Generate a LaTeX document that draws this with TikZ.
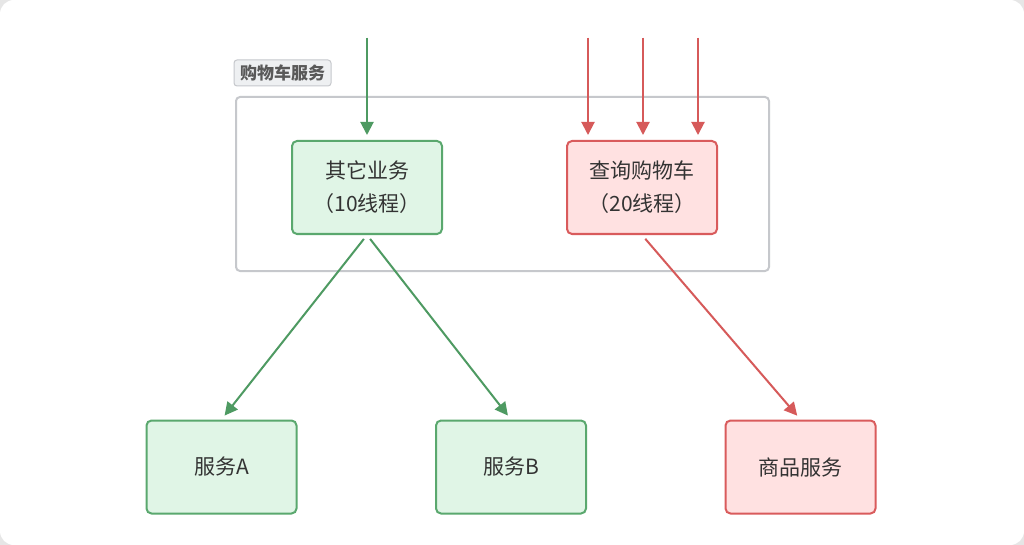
\documentclass[tikz,border=0pt]{standalone}
\usepackage{fontspec}
\setmainfont{Noto Sans CJK SC}
\usepackage{xcolor}
\usetikzlibrary{arrows.meta,positioning,calc}
\definecolor{okgreen}{HTML}{5AA86E}
\definecolor{okgreenfill}{HTML}{E0F5E6}
\definecolor{okarrow}{HTML}{4E9A62}
\definecolor{hotred}{HTML}{D95B5C}
\definecolor{hotredfill}{HTML}{FFE1E1}
\definecolor{hotarrow}{HTML}{D65A5A}
\definecolor{groupgray}{HTML}{C6C8CC}
\definecolor{groupfill}{HTML}{EEF0F2}
\definecolor{textdark}{HTML}{333333}
\definecolor{cornergray}{HTML}{E6E6E6}

\tikzset{
    svcbox/.style={draw, line width=2pt, rounded corners=5pt,
        minimum width=150pt, minimum height=93pt, align=center,
        text=textdark, font=\fontsize{21}{33}\selectfont},
    okbox/.style={svcbox, draw=okgreen, fill=okgreenfill},
    hotbox/.style={svcbox, draw=hotred, fill=hotredfill},
    call/.style={line width=2pt, -{Triangle[length=13pt,width=13pt]},
        shorten >=5pt},
}

\begin{document}
\begin{tikzpicture}[x=1pt, y=-1pt]
    \useasboundingbox (0,0) rectangle (1024,545);
    % page
    \fill[cornergray] (0,0) rectangle (1024,545);
    \fill[white, rounded corners=14pt] (0,0) rectangle (1024,545);

    % Cart service group
    \draw[draw=groupgray, line width=2pt, rounded corners=4pt] (236,97) rectangle (769,271);
    \node[draw=groupgray, fill=groupfill, line width=1pt, rounded corners=3pt,
        minimum width=97pt, minimum height=26pt, inner sep=0pt,
        text=black!65, font=\fontsize{17}{17}\selectfont\bfseries] (grouplabel) at (282.5,73) {购物车服务};

    % Nodes inside the group
    \node[okbox] (other) at (367,187.5) {其它业务\\（10线程）};
    \node[hotbox] (cart) at (642,187.5) {查询购物车\\（20线程）};

    % Downstream services
    \node[okbox] (svcA) at (221.5,467) {服务A};
    \node[okbox] (svcB) at (511,467) {服务B};
    \node[hotbox] (goods) at (800.5,467) {商品服务};

    % Incoming requests
    \coordinate (inother) at (367,38);
    \coordinate (incartA) at (588,38);
    \coordinate (incartB) at (643,38);
    \coordinate (incartC) at (698,38);
    \draw[call, draw=okarrow, fill=okarrow] (inother) -- (other.north);
    \draw[call, draw=hotarrow, fill=hotarrow] (incartA) -- (incartA |- cart.north);
    \draw[call, draw=hotarrow, fill=hotarrow] (incartB) -- (incartB |- cart.north);
    \draw[call, draw=hotarrow, fill=hotarrow] (incartC) -- (incartC |- cart.north);

    % Outgoing calls
    \draw[call, draw=okarrow, fill=okarrow, shorten <=5pt] (other.south) -- (svcA.north);
    \draw[call, draw=okarrow, fill=okarrow, shorten <=5pt] (other.south) -- (svcB.north);
    \draw[call, draw=hotarrow, fill=hotarrow, shorten <=5pt] (cart.south) -- (goods.north);
\end{tikzpicture}
\end{document}
